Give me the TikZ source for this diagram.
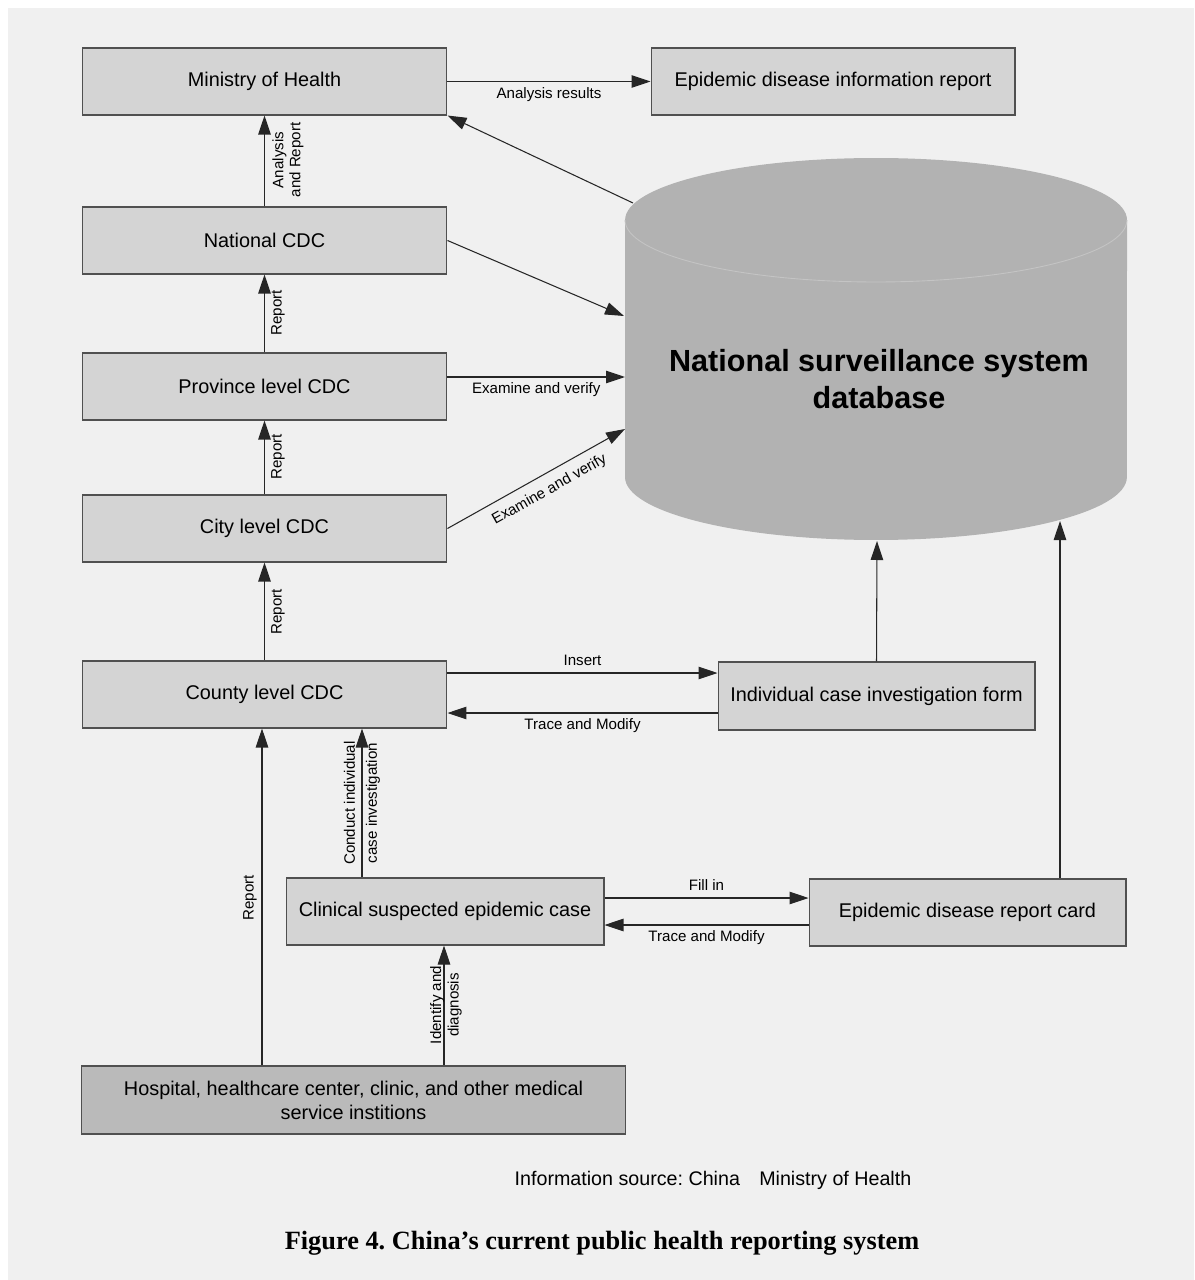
\documentclass[tikz,border=0pt]{standalone}
\usepackage{fontspec}
\setmainfont{Liberation Sans}
\newfontfamily\capfont{Liberation Serif}
\usetikzlibrary{arrows.meta}
\definecolor{bgcol}{RGB}{240,240,240}
\definecolor{boxfill}{RGB}{212,212,212}
\definecolor{hospfill}{RGB}{186,186,186}
\definecolor{cylcol}{RGB}{178,178,178}
\definecolor{seamcol}{RGB}{196,196,196}
\definecolor{boxline}{RGB}{80,80,80}
\frenchspacing
\begin{document}
\begin{tikzpicture}[x=0.02cm,y=-0.02cm,
  box/.style={draw=boxline, line width=0.6pt, fill=boxfill, minimum height=1.34cm, inner sep=0pt,
    font=\fontsize{11.3}{13.6}\selectfont, align=center},
  lab/.style={font=\fontsize{8.6}{9.6}\selectfont, inner sep=1pt, align=center},
  arr/.style={draw=black!85, line width=0.6pt, -{Triangle[length=0.38cm,width=0.25cm]}},
]
\useasboundingbox (0,0) rectangle (1194,1280);
\fill[white] (0,0) rectangle (1194,1280);
\fill[bgcol] (8,8) rectangle (1194,1280);

% cylinder
\fill[cylcol] (625,220) -- (625,477)
  arc[start angle=180,end angle=360,x radius=5.02cm,y radius=1.26cm]
  -- (1127,220)
  arc[start angle=0,end angle=180,x radius=5.02cm,y radius=1.24cm] -- cycle;
\draw[seamcol, line width=0.5pt] (625,220)
  arc[start angle=180,end angle=360,x radius=5.02cm,y radius=1.24cm];
\node[font=\bfseries\fontsize{17.4}{21}\selectfont, align=center] (db) at (879,379)
  {National surveillance system\\database};
\coordinate (dbA) at (633,203);
\coordinate (dbB) at (624,316);
\coordinate (dbC) at (625,377);
\coordinate (dbD) at (625,429);
\coordinate (dbE) at (877,541);
\coordinate (dbF) at (1060,521);

% boxes
\node[box, minimum width=7.3cm]  (moh)    at (264.5,81.5)  {Ministry of Health};
\node[box, minimum width=7.28cm] (info)   at (833,81.5)    {Epidemic disease information report};
\node[box, minimum width=7.3cm]  (ncdc)   at (264.5,240.5) {National CDC};
\node[box, minimum width=7.3cm]  (prov)   at (264.5,386.5) {Province level CDC};
\node[box, minimum width=7.3cm]  (city)   at (264.5,528.5) {City level CDC};
\node[box, minimum width=7.3cm]  (county) at (264.5,694.5) {County level CDC};
\node[box, minimum width=6.34cm, minimum height=1.36cm] (indiv) at (876.5,696) {Individual case investigation form};
\node[box, minimum width=6.36cm] (clin)   at (445,911.5)   {Clinical suspected epidemic case};
\node[box, minimum width=6.34cm] (card)   at (967.5,912.5) {Epidemic disease report card};
\node[box, minimum width=10.9cm, minimum height=1.36cm, fill=hospfill] (hosp) at (353.5,1100)
  {Hospital, healthcare center, clinic, and other medical\\service institions};

% helper coordinates
\coordinate (yins) at (0,673);
\coordinate (ytm1) at (0,713);
\coordinate (yfill) at (0,898);
\coordinate (ytm2) at (0,925);
\coordinate (xhc) at (262,0);
\coordinate (xcc) at (362,0);
\coordinate (xid) at (444,0);

% vertical chain
\draw[arr] (ncdc.north) -- (moh.south);
\draw[arr] (prov.north) -- (ncdc.south);
\draw[arr] (city.north) -- (prov.south);
\draw[arr] (county.north) -- (city.south);
\node[lab, rotate=90] at (288,160) {Analysis\\and Report};
\node[lab, rotate=90] at (278,313) {Report};
\node[lab, rotate=90] at (278,457) {Report};
\node[lab, rotate=90] at (278,612) {Report};

% top right
\draw[arr] (moh.east) -- node[lab, below=2pt] {Analysis results} (info.west);
\draw[arr] (dbA) -- (moh.south east);
\draw[arr] (ncdc.east) -- (dbB);
\draw[arr] (prov.east |- dbC) -- node[lab, below=2pt] {Examine and verify} (dbC);
\draw[arr] (city.east) -- node[lab, sloped, below=4pt, pos=0.53] {Examine and verify} (dbD);

% county <-> individual form
\draw[arr] (county.east |- yins) -- node[lab, above=3pt] {Insert} (indiv.west |- yins);
\draw[arr] (indiv.west |- ytm1) -- node[lab, below=2pt] {Trace and Modify} (county.east |- ytm1);
\draw[arr] (indiv.north) -- (dbE);

% clinical <-> card
\draw[arr] (clin.east |- yfill) -- node[lab, above=3pt] {Fill in} (card.west |- yfill);
\draw[arr] (card.west |- ytm2) -- node[lab, below=2pt] {Trace and Modify} (clin.east |- ytm2);
\draw[arr] (card.north -| dbF) -- (dbF);

% bottom verticals
\draw[arr] (hosp.north -| xhc) -- (county.south -| xhc);
\node[lab, rotate=90] at (250,898) {Report};
\draw[arr] (clin.north -| xcc) -- (county.south -| xcc);
\node[lab, rotate=90, font=\fontsize{8.6}{12.6}\selectfont] at (362,803) {Conduct individual\\case investigation};
\draw[arr] (hosp.north -| xid) -- (clin.south -| xid);
\node[lab, rotate=90, font=\fontsize{8.6}{10}\selectfont] at (446,1005) {Identify and\\diagnosis};

% footer
\node[font=\fontsize{11.2}{13}\selectfont, inner sep=0pt] (src) at (713,1180)
  {Information source: China\hspace{11pt}Ministry of Health};
\node[font=\capfont\bfseries\fontsize{15}{18}\selectfont, inner sep=0pt] (cap) at (602,1243)
  {Figure 4. China’s current public health reporting system};
\end{tikzpicture}
\end{document}
